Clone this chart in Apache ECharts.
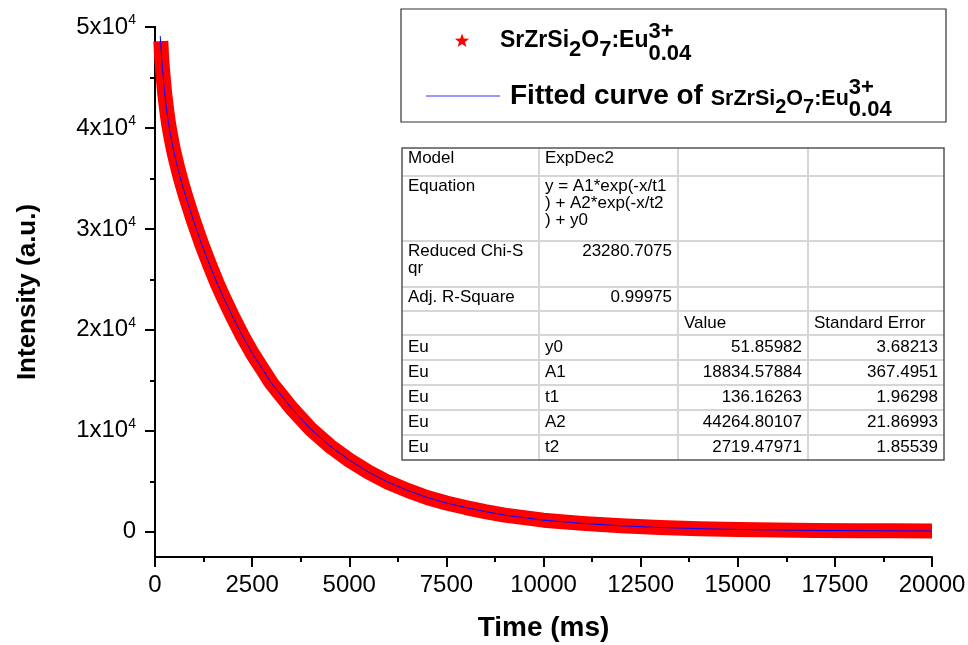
<!DOCTYPE html>
<html>
<head>
<meta charset="utf-8">
<script src="https://cdn.jsdelivr.net/npm/echarts@6/dist/echarts.min.js"></script>
<style>html,body{margin:0;padding:0;background:#fff}#c{width:968px;height:645px}</style>
</head>
<body>
<div id="c"></div>
<script>
// ---- data ----
const timeMs = [150,170,200,250,300,350,400,450,500,600,700,800,900,1000,1200,1400,1600,1800,2000,2250,2500,2750,3000,3250,3500,4000,4500,5000,5500,6000,6500,7000,7500,8000,8500,9000,10000,11000,12000,13000,14000,15000,16000,17000,18000,19000,20000];
const measured = [48600,47000,45500,43400,41800,40400,39300,38300,37400,35800,34400,33100,31900,30700,28500,26500,24600,22900,21300,19400,17700,16200,14700,13500,12300,10200,8500,7100,5900,4900,4100,3400,2850,2400,2000,1650,1150,830,590,420,310,230,175,135,110,95,80];
const fitTime = [135,150,170,200,250,300,350,400,450,500,600,700,800,900,1000,1200,1400,1600,1800,2000,2250,2500,2750,3000,3250,3500,4000,4500,5000,5500,6000,6500,7000,7500,8000,8500,9000,10000,11000,12000,13000,14000,15000,16000,17000,18000,19000,20000];
const fitted = [49100,48200,46900,45500,43400,41800,40400,39300,38300,37400,35800,34400,33100,31900,30700,28500,26500,24600,22900,21300,19400,17700,16200,14700,13500,12300,10200,8500,7100,5900,4900,4100,3400,2850,2400,2000,1650,1150,830,590,420,310,230,175,135,110,95,80];
const yMajorTicks = [0,10000,20000,30000,40000,50000];
const yMinorTicks = [5000,15000,25000,35000,45000];
const xTickStep = 2500;
const seriesNames = ['SrZrSi2O7:Eu0.04 3+', 'Fitted curve of SrZrSi2O7:Eu0.04 3+'];
const tableRows = [
  ['Model','ExpDec2','',''],
  ['Equation','y = A1*exp(-x/t1\n) + A2*exp(-x/t2\n) + y0','',''],
  ['Reduced Chi-S\nqr','23280.7075','',''],
  ['Adj. R-Square','0.99975','',''],
  ['','','Value','Standard Error'],
  ['Eu','y0','51.85982','3.68213'],
  ['Eu','A1','18834.57884','367.4951'],
  ['Eu','t1','136.16263','1.96298'],
  ['Eu','A2','44264.80107','21.86993'],
  ['Eu','t2','2719.47971','1.85539']
];

// ---- rendering ----
const FONT = '"Liberation Sans", Arial, Helvetica, sans-serif';
const mctx = document.createElement('canvas').getContext('2d');
function tw(t, size, bold){ mctx.font = (bold ? 'bold ' : '') + size + 'px ' + FONT; return mctx.measureText(t).width; }
function txt(t, x, y, size, bold, align, valign, lh){
  return {type:'text', x:x, y:y, z:100, silent:true,
    style:{text:t, fill:'#000', font:(bold?'bold ':'') + size + 'px ' + FONT,
      align:align||'left', textAlign:align||'left',
      verticalAlign:valign||'middle', textVerticalAlign:valign||'middle',
      lineHeight: lh || undefined}};
}

const graphics = [];
// Legend box
graphics.push({type:'rect', z:90, silent:true, shape:{x:401, y:9, width:545, height:113},
  style:{fill:'#fff', stroke:'#333', lineWidth:1.2}});
(function(){
  const cx = 462, cy = 41, R = 7.5, r = 3.1, pts = [];
  for (let i = 0; i < 10; i++) {
    const a = -Math.PI/2 + i*Math.PI/5, rr = i%2 ? r : R;
    pts.push([cx + rr*Math.cos(a), cy + rr*Math.sin(a)]);
  }
  graphics.push({type:'polygon', z:100, silent:true, shape:{points:pts}, style:{fill:'#ff0000'}});
})();
graphics.push({type:'line', z:100, silent:true, shape:{x1:426, y1:96, x2:500, y2:96}, style:{stroke:'#3333ff', lineWidth:1}});

function formula(x, cy, base, sub, subDy, supDy, lowDy, idx){
  const parts = [['SrZrSi',base,0],['2',sub,subDy],['O',base,0],['7',sub,subDy],[':Eu',base,0]];
  parts.forEach(function(p){ graphics.push(txt(p[0], x, cy+p[2], p[1], true)); x += tw(p[0], p[1], true); });
  graphics.push(txt('3+', x, cy+supDy, idx, true));
  graphics.push(txt('0.04', x, cy+lowDy, idx, true));
}
formula(500, 41, 23, 22, 9, -9, 13, 22);
graphics.push(txt('Fitted curve of', 510, 96.5, 28, true));
formula(510 + tw('Fitted curve of ', 28, true), 99, 21.5, 20, 8.5, -11, 11, 22);

// Table
const colX = [402, 539, 678, 808, 944];
const rowY = [148, 176, 241, 287, 311, 335, 360, 385, 410, 435, 460];
graphics.push({type:'rect', z:90, silent:true, shape:{x:colX[0], y:rowY[0], width:colX[4]-colX[0], height:rowY[10]-rowY[0]}, style:{fill:'#fff'}});
for (let i = 1; i < colX.length-1; i++)
  graphics.push({type:'line', z:95, silent:true, shape:{x1:colX[i], y1:rowY[0], x2:colX[i], y2:rowY[10]}, style:{stroke:'#d6d6d6', lineWidth:2}});
for (let j = 1; j < rowY.length-1; j++)
  graphics.push({type:'line', z:95, silent:true, shape:{x1:colX[0], y1:rowY[j], x2:colX[4], y2:rowY[j]}, style:{stroke:'#d6d6d6', lineWidth:2}});
graphics.push({type:'rect', z:96, silent:true, shape:{x:colX[0], y:rowY[0], width:colX[4]-colX[0], height:rowY[10]-rowY[0]}, style:{fill:'none', stroke:'#555', lineWidth:1.5}});
tableRows.forEach(function(row, r){
  row.forEach(function(cell, c){
    if (!cell) return;
    const numeric = /^[0-9.]+$/.test(cell);
    const x = numeric ? colX[c+1]-6 : colX[c]+6;
    const pad = r >= 4 ? 4 : 2;
    graphics.push(txt(cell, x, rowY[r]+pad, 17, false, numeric ? 'right' : 'left', 'top', 17));
  });
});

const starPath = 'path://M50,0L61,35L98,35L68,57L79,91L50,70L21,91L32,57L2,35L39,35Z';
const option = {
  animation: false,
  backgroundColor: '#fff',
  grid: {left:155, right:36, top:27, bottom:88, containLabel:false, outerBoundsMode:'none'},
  xAxis: {
    type:'value', min:0, max:20000, interval:xTickStep,
    name:'Time (ms)', nameLocation:'middle', nameGap:57,
    nameTextStyle:{fontFamily:FONT, color:'#000', fontSize:28, fontWeight:'bold'},
    axisLine:{show:true, onZero:false, lineStyle:{color:'#000', width:2}},
    axisTick:{show:true, length:10, lineStyle:{color:'#000', width:2}},
    minorTick:{show:true, splitNumber:2, length:5, lineStyle:{color:'#000', width:2}},
    axisLabel:{fontSize:24, margin:16, fontFamily:FONT, color:'#000', formatter:function(v){ return String(v); }},
    splitLine:{show:false}, minorSplitLine:{show:false}
  },
  yAxis: [{
    type:'value', min:-2500, max:50000,
    name:'Intensity (a.u.)', nameLocation:'middle', nameGap:114,
    nameTextStyle:{fontFamily:FONT, color:'#000', fontSize:26, fontWeight:'bold'},
    axisLine:{show:true, onZero:false, lineStyle:{color:'#000', width:2}},
    axisTick:{show:true, length:10, customValues:yMajorTicks, lineStyle:{color:'#000', width:2}},
    axisLabel:{customValues:yMajorTicks, margin:19, fontSize:24, fontFamily:FONT, color:'#000',
      formatter:function(v){ return v === 0 ? '0' : '{b|' + (v/10000) + 'x10}{s|4}'; },
      rich:{b:{fontSize:24, fontFamily:FONT, color:'#000', lineHeight:28},
            s:{fontSize:14, fontFamily:FONT, color:'#000', lineHeight:14, verticalAlign:'top'}}},
    splitLine:{show:false}
  },{
    type:'value', min:-2500, max:50000, position:'left',
    axisLine:{show:true, onZero:false, lineStyle:{color:'#000', width:2}},
    axisTick:{show:true, length:5, customValues:yMinorTicks, lineStyle:{color:'#000', width:2}},
    axisLabel:{show:false}, splitLine:{show:false}
  }],
  series: [{
    name: seriesNames[0], type:'line', yAxisIndex:0,
    data: timeMs.map(function(t,i){ return [t, measured[i]]; }),
    showSymbol:false, symbol:starPath,
    lineStyle:{color:'#ff0000', width:15, join:'round', cap:'butt'},
    itemStyle:{color:'#ff0000'}, z:2, silent:true
  },{
    name: seriesNames[1], type:'line', yAxisIndex:0,
    data: fitTime.map(function(t,i){ return [t, fitted[i]]; }),
    showSymbol:false, symbol:'none',
    lineStyle:{color:'#0000ff', width:1}, z:3, silent:true
  }],
  graphic: {elements: graphics}
};
const chart = echarts.init(document.getElementById('c'));
chart.setOption(option);
</script>
</body>
</html>
